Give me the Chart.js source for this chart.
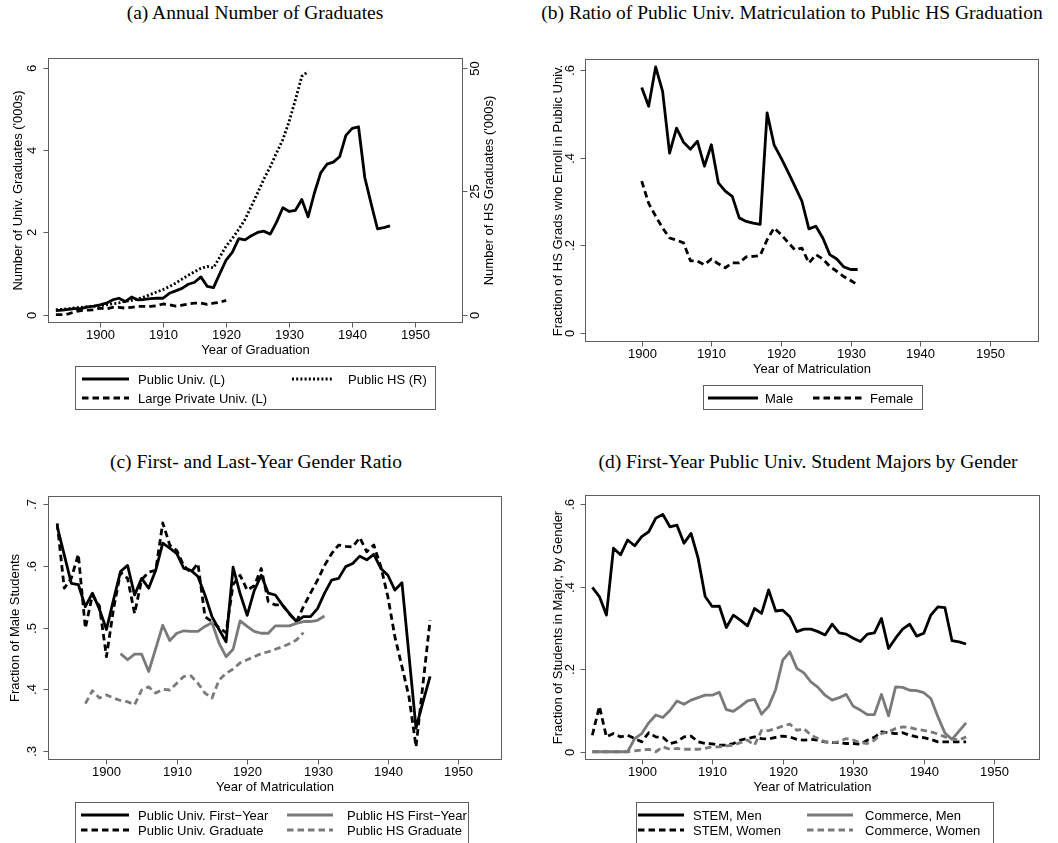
<!DOCTYPE html>
<html><head><meta charset="utf-8">
<script src="https://cdn.jsdelivr.net/npm/chart.js@4/dist/chart.umd.min.js"></script>
<style>
html,body{margin:0;padding:0;background:#fff;}
body{width:1058px;height:843px;position:relative;overflow:hidden;font-family:"Liberation Sans",Arial,sans-serif;}
.ttl{position:absolute;font-family:"Liberation Serif","Times New Roman",serif;font-size:19.5px;color:#000;white-space:nowrap;transform:translate(-50%,-50%);line-height:22px;}
canvas{position:absolute;}
.lt{position:absolute;font-size:13px;color:#000;white-space:nowrap;transform:translateY(-50%);line-height:15px;}
#leg{position:absolute;left:0;top:0;}
</style></head>
<body>
<div class="ttl" style="left:255px;top:13px">(a) Annual Number of Graduates</div>
<div class="ttl" style="left:792px;top:13px">(b) Ratio of Public Univ. Matriculation to Public HS Graduation</div>
<div class="ttl" style="left:256px;top:462px">(c) First- and Last-Year Gender Ratio</div>
<div class="ttl" style="left:808px;top:462px">(d) First-Year Public Univ. Student Majors by Gender</div>
<canvas id="cA" width="528" height="325" style="left:0;top:40px"></canvas>
<canvas id="cB" width="528" height="340" style="left:530px;top:40px"></canvas>
<canvas id="cC" width="528" height="325" style="left:0;top:475px"></canvas>
<canvas id="cD" width="528" height="325" style="left:530px;top:475px"></canvas>
<svg id="leg" width="1058" height="843"></svg>
<script>
// ---------------- DATA ----------------
const YEARS_1893_1946 = [1893,1894,1895,1896,1897,1898,1899,1900,1901,1902,1903,1904,1905,1906,1907,1908,1909,1910,1911,1912,1913,1914,1915,1916,1917,1918,1919,1920,1921,1922,1923,1924,1925,1926,1927,1928,1929,1930,1931,1932,1933,1934,1935,1936,1937,1938,1939,1940,1941,1942,1943,1944,1945,1946];
const YEARS_1893_1920 = [1893,1894,1895,1896,1897,1898,1899,1900,1901,1902,1903,1904,1905,1906,1907,1908,1909,1910,1911,1912,1913,1914,1915,1916,1917,1918,1919,1920];
const YEARS_1893_1933 = [1893,1894,1895,1896,1897,1898,1899,1900,1901,1902,1903,1904,1905,1906,1907,1908,1909,1910,1911,1912,1913,1914,1915,1916,1917,1918,1919,1920,1921,1922,1923,1924,1925,1926,1927,1928,1929,1930,1931,1932,1933];
const YEARS_1900_1931 = [1900,1901,1902,1903,1904,1905,1906,1907,1908,1909,1910,1911,1912,1913,1914,1915,1916,1917,1918,1919,1920,1921,1922,1923,1924,1925,1926,1927,1928,1929,1930,1931];
const YEARS_1902_1931 = [1902,1903,1904,1905,1906,1907,1908,1909,1910,1911,1912,1913,1914,1915,1916,1917,1918,1919,1920,1921,1922,1923,1924,1925,1926,1927,1928,1929,1930,1931];
const YEARS_1897_1928 = [1897,1898,1899,1900,1901,1902,1903,1904,1905,1906,1907,1908,1909,1910,1911,1912,1913,1914,1915,1916,1917,1918,1919,1920,1921,1922,1923,1924,1925,1926,1927,1928];

// (a) thousands of graduates
const publicUnivGrads = [0.10,0.11,0.13,0.15,0.15,0.19,0.21,0.24,0.28,0.36,0.40,0.32,0.43,0.36,0.37,0.39,0.40,0.40,0.52,0.58,0.64,0.74,0.79,0.92,0.69,0.66,1.00,1.33,1.52,1.85,1.82,1.92,2.00,2.03,1.96,2.25,2.60,2.51,2.54,2.80,2.38,2.96,3.45,3.66,3.71,3.84,4.36,4.53,4.57,3.33,2.70,2.09,2.12,2.16];
const largePrivateGrads = [0.00,0.00,0.02,0.07,0.10,0.11,0.12,0.16,0.14,0.18,0.18,0.16,0.18,0.20,0.20,0.20,0.22,0.26,0.24,0.21,0.23,0.26,0.28,0.28,0.25,0.28,0.30,0.35];
const publicHSGrads = [1.0,1.1,1.2,1.4,1.5,1.6,1.7,1.8,2.0,2.2,2.4,2.7,2.9,3.2,3.6,4.1,4.6,5.1,5.7,6.4,7.2,8.0,8.7,9.4,9.8,9.5,11.7,13.9,15.5,17.3,19.3,22.0,24.7,27.5,30.0,32.8,35.5,39.2,43.6,48.3,49.3];

// (b) ratio
const ratioMale = [0.561,0.518,0.608,0.552,0.411,0.468,0.436,0.420,0.438,0.381,0.430,0.343,0.324,0.312,0.263,0.255,0.251,0.248,0.503,0.430,0.400,0.368,0.335,0.301,0.238,0.244,0.217,0.179,0.169,0.151,0.145,0.145];
const ratioFemale = [0.347,0.296,0.267,0.240,0.217,0.212,0.206,0.165,0.164,0.156,0.169,0.158,0.149,0.160,0.160,0.174,0.175,0.177,0.213,0.240,0.225,0.207,0.190,0.194,0.160,0.179,0.169,0.152,0.141,0.129,0.120,0.110];

// (c) fraction male
const univFirstYear = [0.664,0.618,0.572,0.570,0.534,0.556,0.530,0.497,0.545,0.591,0.601,0.553,0.580,0.564,0.593,0.637,0.629,0.620,0.596,0.593,0.583,0.553,0.518,0.497,0.477,0.598,0.555,0.520,0.560,0.585,0.556,0.553,0.537,0.523,0.510,0.518,0.518,0.531,0.556,0.577,0.580,0.599,0.604,0.616,0.610,0.619,0.596,0.585,0.561,0.573,0.455,0.337,0.380,0.421];
const univGraduate = [0.669,0.564,0.580,0.619,0.499,0.553,0.535,0.453,0.530,0.590,0.580,0.523,0.578,0.590,0.593,0.670,0.634,0.625,0.600,0.590,0.604,0.518,0.510,0.500,0.492,0.570,0.585,0.561,0.568,0.596,0.542,0.537,0.537,0.522,0.510,0.534,0.556,0.577,0.601,0.620,0.634,0.632,0.631,0.646,0.623,0.634,0.599,0.550,0.485,0.437,0.388,0.307,0.410,0.512];
const hsFirstYear = [0.458,0.448,0.457,0.457,0.429,0.466,0.504,0.479,0.491,0.495,0.494,0.494,0.502,0.508,0.475,0.453,0.465,0.511,0.502,0.494,0.491,0.491,0.503,0.503,0.503,0.507,0.510,0.510,0.512,0.519];
const hsGraduate = [0.377,0.398,0.386,0.391,0.386,0.382,0.380,0.375,0.399,0.404,0.394,0.400,0.399,0.410,0.421,0.422,0.410,0.394,0.386,0.415,0.426,0.433,0.443,0.448,0.453,0.458,0.461,0.465,0.469,0.474,0.480,0.492];

// (d) majors
const stemMen = [0.398,0.376,0.331,0.493,0.477,0.513,0.499,0.521,0.533,0.566,0.575,0.545,0.549,0.505,0.529,0.469,0.376,0.352,0.353,0.301,0.331,0.319,0.305,0.347,0.335,0.392,0.341,0.343,0.327,0.291,0.297,0.297,0.291,0.283,0.309,0.288,0.285,0.275,0.267,0.285,0.288,0.323,0.250,0.275,0.297,0.309,0.280,0.287,0.331,0.351,0.349,0.269,0.266,0.261];
const commerceMen = [0,0,0,0,0,0,0.032,0.044,0.070,0.089,0.083,0.100,0.123,0.115,0.125,0.131,0.137,0.137,0.144,0.102,0.098,0.110,0.123,0.127,0.091,0.110,0.151,0.222,0.242,0.202,0.191,0.169,0.156,0.137,0.125,0.131,0.139,0.110,0.101,0.090,0.090,0.139,0.087,0.157,0.156,0.149,0.148,0.143,0.129,0.085,0.045,0.030,0.050,0.070];
const stemWomen = [0.040,0.110,0.036,0.044,0.036,0.040,0.032,0.024,0.046,0.036,0.035,0.020,0.024,0.036,0.038,0.024,0.020,0.019,0.016,0.016,0.020,0.028,0.032,0.036,0.032,0.031,0.035,0.038,0.036,0.030,0.028,0.030,0.028,0.024,0.022,0.022,0.020,0.020,0.018,0.028,0.035,0.048,0.046,0.044,0.046,0.040,0.036,0.034,0.030,0.024,0.024,0.024,0.024,0.024];
const commerceWomen = [0,0,0,0,0,0,0.002,0.004,0.006,0.000,0.012,0.006,0.008,0.006,0.006,0.006,0.008,0.012,0.012,0.014,0.016,0.022,0.028,0.016,0.052,0.051,0.056,0.062,0.067,0.052,0.056,0.040,0.032,0.024,0.022,0.024,0.032,0.028,0.022,0.020,0.028,0.044,0.048,0.056,0.060,0.059,0.054,0.052,0.048,0.043,0.036,0.032,0.028,0.036];

// tick labels
const X_TICKS = [1900,1910,1920,1930,1940,1950];
const A_LEFT_TICKS = [0,2,4,6];        const A_LEFT_LABELS = ['0','2','4','6'];
const A_RIGHT_TICKS = [0,25,50];       const A_RIGHT_LABELS = ['0','25','50'];
const B_TICKS = [0,0.2,0.4,0.6];       const B_LABELS = ['0','.2','.4','.6'];
const C_TICKS = [0.3,0.4,0.5,0.6,0.7]; const C_LABELS = ['.3','.4','.5','.6','.7'];
const D_TICKS = [0,0.2,0.4,0.6];       const D_LABELS = ['0','.2','.4','.6'];

// series names
const A_NAMES = ['Public Univ. (L)','Public HS (R)','Large Private Univ. (L)'];
const B_NAMES = ['Male','Female'];
const C_NAMES = ['Public Univ. First\u2212Year','Public HS First\u2212Year','Public Univ. Graduate','Public HS Graduate'];
const D_NAMES = ['STEM, Men','Commerce, Men','STEM, Women','Commerce, Women'];

// ---------------- STYLE ----------------
const FONT = '"Liberation Sans", Arial, sans-serif';
const BLACK = '#000000', GRAY = '#7a7a7a', FRAME = '#5e5e5e';
const DASH = [6.5, 4], DOT = [2, 2.2];
const LW = 2.8;

function pts(xs, ys){ return xs.map((x,i)=>({x:x, y:ys[i]})); }

const stataAxes = {
  id:'stataAxes',
  afterDraw(chart){
    const o = chart.options.plugins.stataAxes; if(!o) return;
    const ctx = chart.ctx, a = chart.chartArea;
    ctx.save();
    ctx.strokeStyle = FRAME; ctx.lineWidth = 1;
    const L = Math.round(a.left)+0.5, R = Math.round(a.right)-0.5, T = Math.round(a.top)+0.5, B = Math.round(a.bottom)-0.5;
    ctx.strokeRect(L, T, R-L, B-T);
    ctx.fillStyle = '#000'; ctx.font = '13px ' + FONT;
    const xs = chart.scales.x;
    ctx.textAlign='center'; ctx.textBaseline='middle';
    o.xTicks.forEach(v=>{
      const p = Math.round(xs.getPixelForValue(v))+0.5;
      ctx.beginPath(); ctx.moveTo(p,B); ctx.lineTo(p,B+5); ctx.stroke();
      ctx.fillText(String(v), p, a.bottom+12.5);
    });
    ctx.fillText(o.xTitle, (a.left+a.right)/2, a.bottom+27.5);
    const rot = (t,x,y)=>{ ctx.save(); ctx.translate(x,y); ctx.rotate(-Math.PI/2); ctx.textAlign='center'; ctx.textBaseline='middle'; ctx.fillText(t,0,0); ctx.restore(); };
    o.yAxes.forEach(ax=>{
      const s = chart.scales[ax.id]; const left = ax.side==='left';
      const edge = left ? L : R; const dir = left ? -1 : 1;
      ax.ticks.forEach((v,i)=>{
        const p = Math.round(s.getPixelForValue(v))+0.5;
        ctx.beginPath(); ctx.moveTo(edge,p); ctx.lineTo(edge+dir*5,p); ctx.stroke();
        rot(ax.labels[i], edge+dir*ax.labelOff, p);
      });
      rot(ax.title, edge+dir*ax.titleOff, (a.top+a.bottom)/2);
    });
    ctx.restore();
  }
};

function makeChart(id, padding, xr, yScales, datasets, axesOpts){
  const scales = { x:{type:'linear', min:xr[0], max:xr[1], display:false} };
  Object.keys(yScales).forEach(k=>{ scales[k] = Object.assign({type:'linear', display:false}, yScales[k]); });
  return new Chart(document.getElementById(id), {
    type:'line',
    data:{ datasets },
    options:{
      responsive:false, animation:false, devicePixelRatio:1,
      layout:{ padding, autoPadding:false },
      plugins:{ legend:{display:false}, tooltip:{enabled:false}, stataAxes:axesOpts },
      scales,
      elements:{ point:{radius:0, hoverRadius:0}, line:{tension:0, borderWidth:LW, borderJoinStyle:'round', borderCapStyle:'butt', fill:false} }
    },
    plugins:[stataAxes]
  });
}
function ds(label, xs, ys, color, dash, axis){
  return { label, data:pts(xs,ys), borderColor:color, borderDash:dash||[], yAxisID:axis||'y' };
}

// (a)
makeChart('cA', {left:48, top:18, right:65, bottom:42}, [1891.75, 1957.57],
  { y:{min:-0.202, max:6.243}, y2:{min:-1.683, max:52.03} },
  [ ds(A_NAMES[0], YEARS_1893_1946, publicUnivGrads, BLACK, null, 'y'),
    ds(A_NAMES[1], YEARS_1893_1933, publicHSGrads, BLACK, DOT, 'y2'),
    ds(A_NAMES[2], YEARS_1893_1920, largePrivateGrads, BLACK, DASH, 'y') ],
  { xTicks:X_TICKS, xTitle:'Year of Graduation',
    yAxes:[ {id:'y', side:'left', ticks:A_LEFT_TICKS, labels:A_LEFT_LABELS, labelOff:16, title:"Number of Univ. Graduates ('000s)", titleOff:30},
            {id:'y2', side:'right', ticks:A_RIGHT_TICKS, labels:A_RIGHT_LABELS, labelOff:13, title:"Number of HS Graduates ('000s)", titleOff:27} ] });

// (b)
makeChart('cB', {left:55, top:19, right:19, bottom:38}, [1891.86, 1957.03],
  { y:{min:-0.0206, max:0.626} },
  [ ds(B_NAMES[0], YEARS_1900_1931, ratioMale, BLACK, null),
    ds(B_NAMES[1], YEARS_1900_1931, ratioFemale, BLACK, DASH) ],
  { xTicks:X_TICKS, xTitle:'Year of Matriculation',
    yAxes:[ {id:'y', side:'left', ticks:B_TICKS, labels:B_LABELS, labelOff:15, title:'Fraction of HS Grads who Enroll in Public Univ.', titleOff:27} ] });

// (c)
makeChart('cC', {left:48, top:21, right:26, bottom:40}, [1891.69, 1956.22],
  { y:{min:0.2855, max:0.7135} },
  [ ds(C_NAMES[1], YEARS_1902_1931, hsFirstYear, GRAY, null),
    ds(C_NAMES[3], YEARS_1897_1928, hsGraduate, GRAY, DASH),
    ds(C_NAMES[2], YEARS_1893_1946, univGraduate, BLACK, DASH),
    ds(C_NAMES[0], YEARS_1893_1946, univFirstYear, BLACK, null) ],
  { xTicks:X_TICKS, xTitle:'Year of Matriculation',
    yAxes:[ {id:'y', side:'left', ticks:C_TICKS, labels:C_LABELS, labelOff:16, title:'Fraction of Male Students', titleOff:33} ] });

// (d)
makeChart('cD', {left:55, top:20, right:18, bottom:40}, [1891.96, 1956.48],
  { y:{min:-0.020, max:0.622} },
  [ ds(D_NAMES[3], YEARS_1893_1946, commerceWomen, GRAY, DASH),
    ds(D_NAMES[2], YEARS_1893_1946, stemWomen, BLACK, DASH),
    ds(D_NAMES[1], YEARS_1893_1946, commerceMen, GRAY, null),
    ds(D_NAMES[0], YEARS_1893_1946, stemMen, BLACK, null) ],
  { xTicks:X_TICKS, xTitle:'Year of Matriculation',
    yAxes:[ {id:'y', side:'left', ticks:D_TICKS, labels:D_LABELS, labelOff:15, title:'Fraction of Students in Major, by Gender', titleOff:27} ] });

// ---------------- LEGENDS ----------------
const svg = document.getElementById('leg');
const NS = 'http://www.w3.org/2000/svg';
function el(tag, attrs){ const e=document.createElementNS(NS,tag); for(const k in attrs) e.setAttribute(k, attrs[k]); svg.appendChild(e); return e; }
function box(x1,y1,x2,y2){ el('rect',{x:x1+0.5,y:y1+0.5,width:x2-x1,height:y2-y1,fill:'none',stroke:FRAME,'stroke-width':1}); }
function item(x1,x2,y,color,dash,tx,text){
  const a = {x1:x1,x2:x2,y1:y,y2:y,stroke:color,'stroke-width':LW};
  if(dash) a['stroke-dasharray'] = dash.join(',');
  el('line', a);
  const d = document.createElement('div'); d.className='lt'; d.style.left=tx+'px'; d.style.top=y+'px'; d.textContent=text; document.body.appendChild(d);
}
box(75,366,435,409);
item(82,129,379,BLACK,null,138,A_NAMES[0]);
item(292,333,379,BLACK,DOT,348,A_NAMES[1]);
item(82,129,398,BLACK,DASH,138,A_NAMES[2]);

box(703,385,922,409);
item(708,758,398,BLACK,null,765,B_NAMES[0]);
item(813,862,398,BLACK,DASH,870,B_NAMES[1]);

box(75,802,468,870);
item(81,129,815,BLACK,null,138,C_NAMES[0]);
item(287,333,815,GRAY,null,347,C_NAMES[1]);
item(81,129,830,BLACK,DASH,138,C_NAMES[2]);
item(287,333,830,GRAY,DASH,347,C_NAMES[3]);

box(636,802,993,870);
item(638,684,815,BLACK,null,693,D_NAMES[0]);
item(807,853,815,GRAY,null,865,D_NAMES[1]);
item(638,684,830,BLACK,DASH,693,D_NAMES[2]);
item(807,853,830,GRAY,DASH,865,D_NAMES[3]);
</script>
</body></html>
